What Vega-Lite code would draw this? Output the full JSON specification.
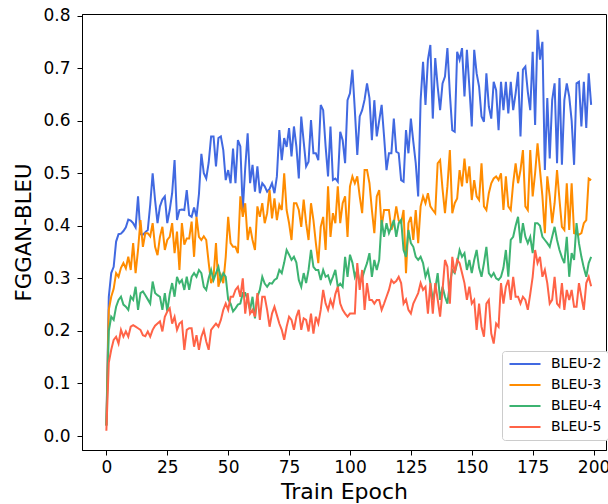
{
  "$schema": "https://vega.github.io/schema/vega-lite/v6.json",
  "width": 524,
  "height": 436,
  "autosize": {"type": "none"},
  "padding": {"left": 82, "top": 14, "right": 2, "bottom": 54},
  "background": "white",
  "config": {
    "font": "DejaVu Sans",
    "view": {"stroke": "black", "strokeWidth": 1},
    "axis": {
      "grid": false,
      "domainColor": "black",
      "tickColor": "black",
      "labelColor": "black",
      "titleColor": "black",
      "labelFont": "DejaVu Sans",
      "titleFont": "DejaVu Sans",
      "labelFontSize": 17,
      "titleFontWeight": "normal",
      "tickSize": 5,
      "labelFlush": false,
      "labelOverlap": false
    },
    "legend": {
      "orient": "none",
      "legendX": 420,
      "legendY": 337,
      "symbolType": "M-3,0H3",
      "symbolStrokeWidth": 2,
      "symbolSize": 107,
      "symbolOffset": 10,
      "labelFont": "DejaVu Sans",
      "labelFontSize": 14,
      "labelColor": "black",
      "labelOffset": 19,
      "padding": 6,
      "rowPadding": 7,
      "strokeColor": "#cccccc",
      "fillColor": "white",
      "cornerRadius": 3
    }
  },
  "data": {
    "values": [
      {"e":0,"BLEU-2":0.02,"BLEU-3":0.02,"BLEU-4":0.02,"BLEU-5":0.01},
      {"e":1,"BLEU-2":0.265,"BLEU-3":0.24,"BLEU-4":0.2,"BLEU-5":0.14},
      {"e":2,"BLEU-2":0.31,"BLEU-3":0.265,"BLEU-4":0.227,"BLEU-5":0.164},
      {"e":3,"BLEU-2":0.322,"BLEU-3":0.28,"BLEU-4":0.221,"BLEU-5":0.183},
      {"e":4,"BLEU-2":0.37,"BLEU-3":0.31,"BLEU-4":0.246,"BLEU-5":0.189},
      {"e":5,"BLEU-2":0.384,"BLEU-3":0.303,"BLEU-4":0.259,"BLEU-5":0.176},
      {"e":6,"BLEU-2":0.385,"BLEU-3":0.32,"BLEU-4":0.265,"BLEU-5":0.202},
      {"e":7,"BLEU-2":0.39,"BLEU-3":0.329,"BLEU-4":0.25,"BLEU-5":0.189},
      {"e":8,"BLEU-2":0.397,"BLEU-3":0.319,"BLEU-4":0.246,"BLEU-5":0.199},
      {"e":9,"BLEU-2":0.412,"BLEU-3":0.341,"BLEU-4":0.24,"BLEU-5":0.189},
      {"e":10,"BLEU-2":0.41,"BLEU-3":0.316,"BLEU-4":0.265,"BLEU-5":0.208},
      {"e":11,"BLEU-2":0.405,"BLEU-3":0.367,"BLEU-4":0.259,"BLEU-5":0.211},
      {"e":12,"BLEU-2":0.397,"BLEU-3":0.31,"BLEU-4":0.284,"BLEU-5":0.208},
      {"e":13,"BLEU-2":0.456,"BLEU-3":0.354,"BLEU-4":0.24,"BLEU-5":0.205},
      {"e":14,"BLEU-2":0.384,"BLEU-3":0.411,"BLEU-4":0.272,"BLEU-5":0.202},
      {"e":15,"BLEU-2":0.383,"BLEU-3":0.36,"BLEU-4":0.275,"BLEU-5":0.192},
      {"e":16,"BLEU-2":0.388,"BLEU-3":0.386,"BLEU-4":0.268,"BLEU-5":0.19},
      {"e":17,"BLEU-2":0.392,"BLEU-3":0.386,"BLEU-4":0.26,"BLEU-5":0.199},
      {"e":18,"BLEU-2":0.44,"BLEU-3":0.38,"BLEU-4":0.252,"BLEU-5":0.189},
      {"e":19,"BLEU-2":0.5,"BLEU-3":0.405,"BLEU-4":0.294,"BLEU-5":0.202},
      {"e":20,"BLEU-2":0.449,"BLEU-3":0.36,"BLEU-4":0.272,"BLEU-5":0.21},
      {"e":21,"BLEU-2":0.405,"BLEU-3":0.344,"BLEU-4":0.268,"BLEU-5":0.214},
      {"e":22,"BLEU-2":0.437,"BLEU-3":0.379,"BLEU-4":0.265,"BLEU-5":0.218},
      {"e":23,"BLEU-2":0.45,"BLEU-3":0.398,"BLEU-4":0.24,"BLEU-5":0.199},
      {"e":24,"BLEU-2":0.456,"BLEU-3":0.354,"BLEU-4":0.272,"BLEU-5":0.227},
      {"e":25,"BLEU-2":0.405,"BLEU-3":0.373,"BLEU-4":0.237,"BLEU-5":0.237},
      {"e":26,"BLEU-2":0.43,"BLEU-3":0.379,"BLEU-4":0.27,"BLEU-5":0.243},
      {"e":27,"BLEU-2":0.462,"BLEU-3":0.405,"BLEU-4":0.291,"BLEU-5":0.214},
      {"e":28,"BLEU-2":0.525,"BLEU-3":0.348,"BLEU-4":0.265,"BLEU-5":0.227},
      {"e":29,"BLEU-2":0.411,"BLEU-3":0.389,"BLEU-4":0.303,"BLEU-5":0.202},
      {"e":30,"BLEU-2":0.43,"BLEU-3":0.316,"BLEU-4":0.291,"BLEU-5":0.214},
      {"e":31,"BLEU-2":0.431,"BLEU-3":0.405,"BLEU-4":0.297,"BLEU-5":0.218},
      {"e":32,"BLEU-2":0.43,"BLEU-3":0.364,"BLEU-4":0.278,"BLEU-5":0.164},
      {"e":33,"BLEU-2":0.468,"BLEU-3":0.376,"BLEU-4":0.303,"BLEU-5":0.202},
      {"e":34,"BLEU-2":0.42,"BLEU-3":0.376,"BLEU-4":0.278,"BLEU-5":0.205},
      {"e":35,"BLEU-2":0.417,"BLEU-3":0.408,"BLEU-4":0.303,"BLEU-5":0.205},
      {"e":36,"BLEU-2":0.435,"BLEU-3":0.341,"BLEU-4":0.31,"BLEU-5":0.17},
      {"e":37,"BLEU-2":0.417,"BLEU-3":0.417,"BLEU-4":0.303,"BLEU-5":0.192},
      {"e":38,"BLEU-2":0.46,"BLEU-3":0.379,"BLEU-4":0.316,"BLEU-5":0.164},
      {"e":39,"BLEU-2":0.537,"BLEU-3":0.373,"BLEU-4":0.31,"BLEU-5":0.189},
      {"e":40,"BLEU-2":0.5,"BLEU-3":0.38,"BLEU-4":0.284,"BLEU-5":0.202},
      {"e":41,"BLEU-2":0.49,"BLEU-3":0.373,"BLEU-4":0.278,"BLEU-5":0.18},
      {"e":42,"BLEU-2":0.52,"BLEU-3":0.33,"BLEU-4":0.3,"BLEU-5":0.164},
      {"e":43,"BLEU-2":0.57,"BLEU-3":0.291,"BLEU-4":0.316,"BLEU-5":0.202},
      {"e":44,"BLEU-2":0.57,"BLEU-3":0.303,"BLEU-4":0.297,"BLEU-5":0.208},
      {"e":45,"BLEU-2":0.513,"BLEU-3":0.367,"BLEU-4":0.31,"BLEU-5":0.214},
      {"e":46,"BLEU-2":0.567,"BLEU-3":0.284,"BLEU-4":0.322,"BLEU-5":0.208},
      {"e":47,"BLEU-2":0.57,"BLEU-3":0.306,"BLEU-4":0.297,"BLEU-5":0.221},
      {"e":48,"BLEU-2":0.544,"BLEU-3":0.291,"BLEU-4":0.31,"BLEU-5":0.24},
      {"e":49,"BLEU-2":0.487,"BLEU-3":0.341,"BLEU-4":0.303,"BLEU-5":0.252},
      {"e":50,"BLEU-2":0.506,"BLEU-3":0.417,"BLEU-4":0.26,"BLEU-5":0.24},
      {"e":51,"BLEU-2":0.481,"BLEU-3":0.367,"BLEU-4":0.252,"BLEU-5":0.265},
      {"e":52,"BLEU-2":0.547,"BLEU-3":0.36,"BLEU-4":0.237,"BLEU-5":0.265},
      {"e":53,"BLEU-2":0.481,"BLEU-3":0.36,"BLEU-4":0.243,"BLEU-5":0.278},
      {"e":54,"BLEU-2":0.563,"BLEU-3":0.348,"BLEU-4":0.25,"BLEU-5":0.284},
      {"e":55,"BLEU-2":0.551,"BLEU-3":0.456,"BLEU-4":0.252,"BLEU-5":0.265},
      {"e":56,"BLEU-2":0.43,"BLEU-3":0.417,"BLEU-4":0.272,"BLEU-5":0.3},
      {"e":57,"BLEU-2":0.51,"BLEU-3":0.443,"BLEU-4":0.272,"BLEU-5":0.233},
      {"e":58,"BLEU-2":0.576,"BLEU-3":0.373,"BLEU-4":0.259,"BLEU-5":0.272},
      {"e":59,"BLEU-2":0.481,"BLEU-3":0.398,"BLEU-4":0.24,"BLEU-5":0.233},
      {"e":60,"BLEU-2":0.516,"BLEU-3":0.373,"BLEU-4":0.265,"BLEU-5":0.24},
      {"e":61,"BLEU-2":0.465,"BLEU-3":0.354,"BLEU-4":0.224,"BLEU-5":0.227},
      {"e":62,"BLEU-2":0.513,"BLEU-3":0.437,"BLEU-4":0.265,"BLEU-5":0.272},
      {"e":63,"BLEU-2":0.462,"BLEU-3":0.417,"BLEU-4":0.278,"BLEU-5":0.221},
      {"e":64,"BLEU-2":0.481,"BLEU-3":0.443,"BLEU-4":0.303,"BLEU-5":0.265},
      {"e":65,"BLEU-2":0.475,"BLEU-3":0.405,"BLEU-4":0.29,"BLEU-5":0.265},
      {"e":66,"BLEU-2":0.465,"BLEU-3":0.424,"BLEU-4":0.284,"BLEU-5":0.24},
      {"e":67,"BLEU-2":0.47,"BLEU-3":0.468,"BLEU-4":0.291,"BLEU-5":0.208},
      {"e":68,"BLEU-2":0.481,"BLEU-3":0.414,"BLEU-4":0.29,"BLEU-5":0.233},
      {"e":69,"BLEU-2":0.462,"BLEU-3":0.452,"BLEU-4":0.297,"BLEU-5":0.246},
      {"e":70,"BLEU-2":0.494,"BLEU-3":0.411,"BLEU-4":0.3,"BLEU-5":0.23},
      {"e":71,"BLEU-2":0.582,"BLEU-3":0.44,"BLEU-4":0.316,"BLEU-5":0.214},
      {"e":72,"BLEU-2":0.525,"BLEU-3":0.43,"BLEU-4":0.31,"BLEU-5":0.202},
      {"e":73,"BLEU-2":0.567,"BLEU-3":0.5,"BLEU-4":0.33,"BLEU-5":0.183},
      {"e":74,"BLEU-2":0.55,"BLEU-3":0.43,"BLEU-4":0.354,"BLEU-5":0.208},
      {"e":75,"BLEU-2":0.586,"BLEU-3":0.405,"BLEU-4":0.345,"BLEU-5":0.227},
      {"e":76,"BLEU-2":0.532,"BLEU-3":0.373,"BLEU-4":0.335,"BLEU-5":0.221},
      {"e":77,"BLEU-2":0.589,"BLEU-3":0.443,"BLEU-4":0.341,"BLEU-5":0.202},
      {"e":78,"BLEU-2":0.551,"BLEU-3":0.443,"BLEU-4":0.33,"BLEU-5":0.227},
      {"e":79,"BLEU-2":0.49,"BLEU-3":0.43,"BLEU-4":0.297,"BLEU-5":0.24},
      {"e":80,"BLEU-2":0.608,"BLEU-3":0.398,"BLEU-4":0.284,"BLEU-5":0.202},
      {"e":81,"BLEU-2":0.56,"BLEU-3":0.45,"BLEU-4":0.31,"BLEU-5":0.224},
      {"e":82,"BLEU-2":0.513,"BLEU-3":0.405,"BLEU-4":0.291,"BLEU-5":0.221},
      {"e":83,"BLEU-2":0.522,"BLEU-3":0.373,"BLEU-4":0.316,"BLEU-5":0.199},
      {"e":84,"BLEU-2":0.601,"BLEU-3":0.443,"BLEU-4":0.354,"BLEU-5":0.233},
      {"e":85,"BLEU-2":0.538,"BLEU-3":0.411,"BLEU-4":0.322,"BLEU-5":0.195},
      {"e":86,"BLEU-2":0.538,"BLEU-3":0.367,"BLEU-4":0.316,"BLEU-5":0.227},
      {"e":87,"BLEU-2":0.525,"BLEU-3":0.329,"BLEU-4":0.316,"BLEU-5":0.214},
      {"e":88,"BLEU-2":0.63,"BLEU-3":0.398,"BLEU-4":0.297,"BLEU-5":0.24},
      {"e":89,"BLEU-2":0.62,"BLEU-3":0.417,"BLEU-4":0.316,"BLEU-5":0.278},
      {"e":90,"BLEU-2":0.551,"BLEU-3":0.354,"BLEU-4":0.303,"BLEU-5":0.252},
      {"e":91,"BLEU-2":0.494,"BLEU-3":0.475,"BLEU-4":0.306,"BLEU-5":0.24},
      {"e":92,"BLEU-2":0.589,"BLEU-3":0.379,"BLEU-4":0.291,"BLEU-5":0.259},
      {"e":93,"BLEU-2":0.487,"BLEU-3":0.424,"BLEU-4":0.303,"BLEU-5":0.246},
      {"e":94,"BLEU-2":0.49,"BLEU-3":0.405,"BLEU-4":0.316,"BLEU-5":0.27},
      {"e":95,"BLEU-2":0.484,"BLEU-3":0.475,"BLEU-4":0.284,"BLEU-5":0.284},
      {"e":96,"BLEU-2":0.579,"BLEU-3":0.405,"BLEU-4":0.29,"BLEU-5":0.252},
      {"e":97,"BLEU-2":0.563,"BLEU-3":0.443,"BLEU-4":0.284,"BLEU-5":0.24},
      {"e":98,"BLEU-2":0.519,"BLEU-3":0.456,"BLEU-4":0.341,"BLEU-5":0.233},
      {"e":99,"BLEU-2":0.639,"BLEU-3":0.379,"BLEU-4":0.303,"BLEU-5":0.227},
      {"e":100,"BLEU-2":0.652,"BLEU-3":0.475,"BLEU-4":0.345,"BLEU-5":0.233},
      {"e":101,"BLEU-2":0.697,"BLEU-3":0.494,"BLEU-4":0.33,"BLEU-5":0.233},
      {"e":102,"BLEU-2":0.62,"BLEU-3":0.481,"BLEU-4":0.303,"BLEU-5":0.233},
      {"e":103,"BLEU-2":0.535,"BLEU-3":0.494,"BLEU-4":0.316,"BLEU-5":0.329},
      {"e":104,"BLEU-2":0.608,"BLEU-3":0.456,"BLEU-4":0.291,"BLEU-5":0.278},
      {"e":105,"BLEU-2":0.62,"BLEU-3":0.424,"BLEU-4":0.3,"BLEU-5":0.316},
      {"e":106,"BLEU-2":0.64,"BLEU-3":0.506,"BLEU-4":0.316,"BLEU-5":0.24},
      {"e":107,"BLEU-2":0.671,"BLEU-3":0.506,"BLEU-4":0.329,"BLEU-5":0.291},
      {"e":108,"BLEU-2":0.643,"BLEU-3":0.481,"BLEU-4":0.348,"BLEU-5":0.259},
      {"e":109,"BLEU-2":0.563,"BLEU-3":0.43,"BLEU-4":0.303,"BLEU-5":0.259},
      {"e":110,"BLEU-2":0.639,"BLEU-3":0.386,"BLEU-4":0.335,"BLEU-5":0.252},
      {"e":111,"BLEU-2":0.57,"BLEU-3":0.456,"BLEU-4":0.316,"BLEU-5":0.259},
      {"e":112,"BLEU-2":0.6,"BLEU-3":0.468,"BLEU-4":0.335,"BLEU-5":0.259},
      {"e":113,"BLEU-2":0.63,"BLEU-3":0.398,"BLEU-4":0.411,"BLEU-5":0.24},
      {"e":114,"BLEU-2":0.57,"BLEU-3":0.43,"BLEU-4":0.379,"BLEU-5":0.252},
      {"e":115,"BLEU-2":0.506,"BLEU-3":0.43,"BLEU-4":0.405,"BLEU-5":0.265},
      {"e":116,"BLEU-2":0.538,"BLEU-3":0.43,"BLEU-4":0.386,"BLEU-5":0.278},
      {"e":117,"BLEU-2":0.538,"BLEU-3":0.392,"BLEU-4":0.398,"BLEU-5":0.297},
      {"e":118,"BLEU-2":0.604,"BLEU-3":0.405,"BLEU-4":0.411,"BLEU-5":0.291},
      {"e":119,"BLEU-2":0.541,"BLEU-3":0.437,"BLEU-4":0.379,"BLEU-5":0.295},
      {"e":120,"BLEU-2":0.538,"BLEU-3":0.41,"BLEU-4":0.405,"BLEU-5":0.303},
      {"e":121,"BLEU-2":0.487,"BLEU-3":0.405,"BLEU-4":0.411,"BLEU-5":0.291},
      {"e":122,"BLEU-2":0.484,"BLEU-3":0.43,"BLEU-4":0.354,"BLEU-5":0.252},
      {"e":123,"BLEU-2":0.582,"BLEU-3":0.31,"BLEU-4":0.341,"BLEU-5":0.26},
      {"e":124,"BLEU-2":0.538,"BLEU-3":0.405,"BLEU-4":0.392,"BLEU-5":0.24},
      {"e":125,"BLEU-2":0.604,"BLEU-3":0.417,"BLEU-4":0.367,"BLEU-5":0.233},
      {"e":126,"BLEU-2":0.56,"BLEU-3":0.373,"BLEU-4":0.36,"BLEU-5":0.252},
      {"e":127,"BLEU-2":0.519,"BLEU-3":0.43,"BLEU-4":0.341,"BLEU-5":0.262},
      {"e":128,"BLEU-2":0.456,"BLEU-3":0.367,"BLEU-4":0.335,"BLEU-5":0.272},
      {"e":129,"BLEU-2":0.639,"BLEU-3":0.437,"BLEU-4":0.341,"BLEU-5":0.291},
      {"e":130,"BLEU-2":0.712,"BLEU-3":0.456,"BLEU-4":0.329,"BLEU-5":0.278},
      {"e":131,"BLEU-2":0.63,"BLEU-3":0.443,"BLEU-4":0.303,"BLEU-5":0.284},
      {"e":132,"BLEU-2":0.716,"BLEU-3":0.462,"BLEU-4":0.316,"BLEU-5":0.233},
      {"e":133,"BLEU-2":0.744,"BLEU-3":0.437,"BLEU-4":0.291,"BLEU-5":0.291},
      {"e":134,"BLEU-2":0.604,"BLEU-3":0.43,"BLEU-4":0.259,"BLEU-5":0.233},
      {"e":135,"BLEU-2":0.719,"BLEU-3":0.424,"BLEU-4":0.28,"BLEU-5":0.291},
      {"e":136,"BLEU-2":0.665,"BLEU-3":0.519,"BLEU-4":0.31,"BLEU-5":0.26},
      {"e":137,"BLEU-2":0.62,"BLEU-3":0.525,"BLEU-4":0.259,"BLEU-5":0.227},
      {"e":138,"BLEU-2":0.671,"BLEU-3":0.47,"BLEU-4":0.284,"BLEU-5":0.278},
      {"e":139,"BLEU-2":0.684,"BLEU-3":0.424,"BLEU-4":0.265,"BLEU-5":0.335},
      {"e":140,"BLEU-2":0.738,"BLEU-3":0.475,"BLEU-4":0.252,"BLEU-5":0.322},
      {"e":141,"BLEU-2":0.652,"BLEU-3":0.544,"BLEU-4":0.29,"BLEU-5":0.252},
      {"e":142,"BLEU-2":0.582,"BLEU-3":0.424,"BLEU-4":0.316,"BLEU-5":0.341},
      {"e":143,"BLEU-2":0.579,"BLEU-3":0.443,"BLEU-4":0.31,"BLEU-5":0.31},
      {"e":144,"BLEU-2":0.731,"BLEU-3":0.452,"BLEU-4":0.329,"BLEU-5":0.335},
      {"e":145,"BLEU-2":0.716,"BLEU-3":0.506,"BLEU-4":0.354,"BLEU-5":0.329},
      {"e":146,"BLEU-2":0.738,"BLEU-3":0.475,"BLEU-4":0.341,"BLEU-5":0.31},
      {"e":147,"BLEU-2":0.646,"BLEU-3":0.528,"BLEU-4":0.348,"BLEU-5":0.291},
      {"e":148,"BLEU-2":0.735,"BLEU-3":0.481,"BLEU-4":0.316,"BLEU-5":0.259},
      {"e":149,"BLEU-2":0.665,"BLEU-3":0.513,"BLEU-4":0.335,"BLEU-5":0.284},
      {"e":150,"BLEU-2":0.589,"BLEU-3":0.449,"BLEU-4":0.31,"BLEU-5":0.252},
      {"e":151,"BLEU-2":0.735,"BLEU-3":0.487,"BLEU-4":0.335,"BLEU-5":0.259},
      {"e":152,"BLEU-2":0.69,"BLEU-3":0.456,"BLEU-4":0.354,"BLEU-5":0.202},
      {"e":153,"BLEU-2":0.665,"BLEU-3":0.449,"BLEU-4":0.32,"BLEU-5":0.252},
      {"e":154,"BLEU-2":0.608,"BLEU-3":0.519,"BLEU-4":0.303,"BLEU-5":0.208},
      {"e":155,"BLEU-2":0.598,"BLEU-3":0.437,"BLEU-4":0.329,"BLEU-5":0.189},
      {"e":156,"BLEU-2":0.69,"BLEU-3":0.43,"BLEU-4":0.36,"BLEU-5":0.252},
      {"e":157,"BLEU-2":0.627,"BLEU-3":0.462,"BLEU-4":0.31,"BLEU-5":0.259},
      {"e":158,"BLEU-2":0.604,"BLEU-3":0.481,"BLEU-4":0.303,"BLEU-5":0.195},
      {"e":159,"BLEU-2":0.674,"BLEU-3":0.49,"BLEU-4":0.31,"BLEU-5":0.176},
      {"e":160,"BLEU-2":0.658,"BLEU-3":0.494,"BLEU-4":0.3,"BLEU-5":0.214},
      {"e":161,"BLEU-2":0.582,"BLEU-3":0.487,"BLEU-4":0.297,"BLEU-5":0.208},
      {"e":162,"BLEU-2":0.674,"BLEU-3":0.5,"BLEU-4":0.303,"BLEU-5":0.291},
      {"e":163,"BLEU-2":0.62,"BLEU-3":0.43,"BLEU-4":0.32,"BLEU-5":0.252},
      {"e":164,"BLEU-2":0.674,"BLEU-3":0.494,"BLEU-4":0.354,"BLEU-5":0.284},
      {"e":165,"BLEU-2":0.614,"BLEU-3":0.437,"BLEU-4":0.303,"BLEU-5":0.297},
      {"e":166,"BLEU-2":0.674,"BLEU-3":0.43,"BLEU-4":0.373,"BLEU-5":0.259},
      {"e":167,"BLEU-2":0.62,"BLEU-3":0.481,"BLEU-4":0.379,"BLEU-5":0.303},
      {"e":168,"BLEU-2":0.652,"BLEU-3":0.519,"BLEU-4":0.4,"BLEU-5":0.265},
      {"e":169,"BLEU-2":0.693,"BLEU-3":0.481,"BLEU-4":0.417,"BLEU-5":0.265},
      {"e":170,"BLEU-2":0.57,"BLEU-3":0.506,"BLEU-4":0.367,"BLEU-5":0.252},
      {"e":171,"BLEU-2":0.697,"BLEU-3":0.544,"BLEU-4":0.405,"BLEU-5":0.265},
      {"e":172,"BLEU-2":0.703,"BLEU-3":0.437,"BLEU-4":0.379,"BLEU-5":0.259},
      {"e":173,"BLEU-2":0.655,"BLEU-3":0.43,"BLEU-4":0.367,"BLEU-5":0.24},
      {"e":174,"BLEU-2":0.62,"BLEU-3":0.544,"BLEU-4":0.379,"BLEU-5":0.27},
      {"e":175,"BLEU-2":0.731,"BLEU-3":0.456,"BLEU-4":0.348,"BLEU-5":0.303},
      {"e":176,"BLEU-2":0.592,"BLEU-3":0.5,"BLEU-4":0.405,"BLEU-5":0.354},
      {"e":177,"BLEU-2":0.773,"BLEU-3":0.557,"BLEU-4":0.405,"BLEU-5":0.329},
      {"e":178,"BLEU-2":0.716,"BLEU-3":0.506,"BLEU-4":0.4,"BLEU-5":0.341},
      {"e":179,"BLEU-2":0.75,"BLEU-3":0.456,"BLEU-4":0.379,"BLEU-5":0.303},
      {"e":180,"BLEU-2":0.506,"BLEU-3":0.386,"BLEU-4":0.373,"BLEU-5":0.316},
      {"e":181,"BLEU-2":0.643,"BLEU-3":0.494,"BLEU-4":0.367,"BLEU-5":0.291},
      {"e":182,"BLEU-2":0.528,"BLEU-3":0.456,"BLEU-4":0.36,"BLEU-5":0.252},
      {"e":183,"BLEU-2":0.639,"BLEU-3":0.405,"BLEU-4":0.379,"BLEU-5":0.259},
      {"e":184,"BLEU-2":0.671,"BLEU-3":0.443,"BLEU-4":0.398,"BLEU-5":0.303},
      {"e":185,"BLEU-2":0.519,"BLEU-3":0.506,"BLEU-4":0.373,"BLEU-5":0.252},
      {"e":186,"BLEU-2":0.681,"BLEU-3":0.45,"BLEU-4":0.354,"BLEU-5":0.246},
      {"e":187,"BLEU-2":0.516,"BLEU-3":0.398,"BLEU-4":0.34,"BLEU-5":0.291},
      {"e":188,"BLEU-2":0.639,"BLEU-3":0.392,"BLEU-4":0.329,"BLEU-5":0.24},
      {"e":189,"BLEU-2":0.671,"BLEU-3":0.481,"BLEU-4":0.379,"BLEU-5":0.278},
      {"e":190,"BLEU-2":0.646,"BLEU-3":0.392,"BLEU-4":0.303,"BLEU-5":0.259},
      {"e":191,"BLEU-2":0.6,"BLEU-3":0.481,"BLEU-4":0.348,"BLEU-5":0.278},
      {"e":192,"BLEU-2":0.516,"BLEU-3":0.386,"BLEU-4":0.335,"BLEU-5":0.246},
      {"e":193,"BLEU-2":0.671,"BLEU-3":0.385,"BLEU-4":0.405,"BLEU-5":0.246},
      {"e":194,"BLEU-2":0.674,"BLEU-3":0.383,"BLEU-4":0.367,"BLEU-5":0.291},
      {"e":195,"BLEU-2":0.589,"BLEU-3":0.386,"BLEU-4":0.341,"BLEU-5":0.265},
      {"e":196,"BLEU-2":0.674,"BLEU-3":0.405,"BLEU-4":0.32,"BLEU-5":0.24},
      {"e":197,"BLEU-2":0.586,"BLEU-3":0.411,"BLEU-4":0.303,"BLEU-5":0.291},
      {"e":198,"BLEU-2":0.69,"BLEU-3":0.49,"BLEU-4":0.329,"BLEU-5":0.303},
      {"e":199,"BLEU-2":0.63,"BLEU-3":0.487,"BLEU-4":0.341,"BLEU-5":0.285}
    ]
  },
  "transform": [
    {"fold": ["BLEU-2", "BLEU-3", "BLEU-4", "BLEU-5"], "as": ["series", "score"]}
  ],
  "mark": {"type": "line", "strokeWidth": 2, "clip": true},
  "encoding": {
    "x": {
      "field": "e",
      "type": "quantitative",
      "scale": {"domain": [-10, 205.1], "nice": false, "zero": false},
      "axis": {
        "title": "Train Epoch",
        "titleFontSize": 22,
        "values": [0, 25, 50, 75, 100, 125, 150, 175, 200],
        "labelPadding": 4,
        "titlePadding": 6
      }
    },
    "y": {
      "field": "score",
      "type": "quantitative",
      "scale": {"domain": [-0.0266, 0.803], "nice": false, "zero": false},
      "axis": {
        "title": "FGGAN-BLEU",
        "titleFontSize": 21.3,
        "values": [0, 0.1, 0.2, 0.3, 0.4, 0.5, 0.6, 0.7, 0.8],
        "format": ".1f",
        "labelPadding": 7,
        "titlePadding": 8
      }
    },
    "color": {
      "field": "series",
      "type": "nominal",
      "scale": {
        "domain": ["BLEU-2", "BLEU-3", "BLEU-4", "BLEU-5"],
        "range": ["#4169E1", "#FF8C00", "#3CB371", "#FF6347"]
      },
      "legend": {"title": null}
    }
  }
}
